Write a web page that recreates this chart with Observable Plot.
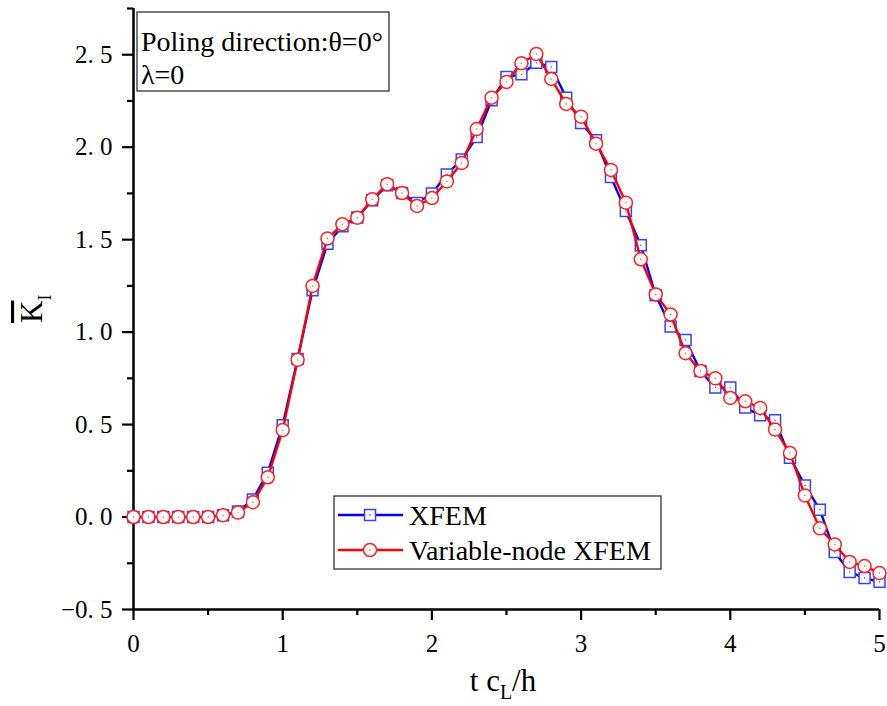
<!DOCTYPE html>
<html>
<head>
<meta charset="utf-8">
<script src="https://cdn.jsdelivr.net/npm/d3@7"></script>
<script src="https://cdn.jsdelivr.net/npm/@observablehq/plot@0.6"></script>
<style>
  html, body { margin: 0; padding: 0; background: #fff; }
  svg { display: block; }
</style>
</head>
<body>
<div id="chart"></div>
<script>
// ---- data ----
const t = [0,0.1,0.2,0.3,0.4,0.5,0.6,0.7,0.8,0.9,1.0,1.1,1.2,1.3,1.4,1.5,1.6,1.7,1.8,1.9,2.0,
           2.1,2.2,2.3,2.4,2.5,2.6,2.7,2.8,2.9,3.0,3.1,3.2,3.3,3.4,3.5,3.6,3.7,3.8,3.9,4.0,
           4.1,4.2,4.3,4.4,4.5,4.6,4.7,4.8,4.9,5.0];
const xfem = [0,0,0,0,0,0,0.01,0.03,0.095,0.24,0.497,0.855,1.226,1.478,1.572,1.62,1.713,1.794,1.752,1.698,1.749,
              1.853,1.933,2.055,2.254,2.38,2.394,2.457,2.434,2.268,2.131,2.037,1.839,1.655,1.47,1.199,1.031,0.957,0.79,0.70,0.70,
              0.592,0.55,0.523,0.321,0.171,0.04,-0.189,-0.297,-0.33,-0.35];
const vnxfem = [0,0,0,0,0,0,0.01,0.024,0.08,0.215,0.47,0.85,1.25,1.506,1.583,1.619,1.718,1.80,1.752,1.682,1.725,
                1.815,1.915,2.098,2.268,2.353,2.454,2.504,2.369,2.234,2.165,2.019,1.877,1.70,1.394,1.204,1.095,0.886,0.79,0.75,0.644,
                0.626,0.59,0.473,0.346,0.117,-0.061,-0.148,-0.243,-0.265,-0.303];
const seriesNames = ["XFEM", "Variable-node XFEM"];
const yMajor = [-0.5,0,0.5,1.0,1.5,2.0,2.5];
const yMinor = [-0.25,0.25,0.75,1.25,1.75,2.25,2.75];
const xMajor = [0,1,2,3,4,5];
const xMinor = [0.5,1.5,2.5,3.5,4.5];
const annotationLines = ["Poling direction:\u03b8=0\u00b0", "\u03bb=0"];

const dA = t.map((x, i) => ({x, y: xfem[i]}));
const dB = t.map((x, i) => ({x, y: vnxfem[i]}));

const fmtY = d => d.toFixed(1).replace(".", ". ").replace("-", "\u2212");
const FONT = "'Liberation Serif', 'Times New Roman', serif";

const chart = Plot.plot({
  width: 887,
  height: 706,
  marginLeft: 133,
  marginRight: 8,
  marginTop: 8,
  marginBottom: 97,
  style: {fontFamily: FONT, fontSize: "25px", background: "#fff", color: "#000"},
  x: {domain: [0, 5]},
  y: {domain: [-0.5, 2.75]},
  marks: [
    // tick marks (labels drawn separately)
    Plot.axisY(yMajor, {tickSize: 11, tickFormat: () => "", strokeWidth: 2.2, strokeOpacity: 1, label: null}),
    Plot.axisY(yMinor, {tickSize: 6, tickFormat: () => "", strokeWidth: 2.2, strokeOpacity: 1, label: null}),
    Plot.axisX(xMajor, {tickSize: 11, tickFormat: () => "", strokeWidth: 2.2, strokeOpacity: 1, label: null}),
    Plot.axisX(xMinor, {tickSize: 6, tickFormat: () => "", strokeWidth: 2.2, strokeOpacity: 1, label: null}),
    // tick labels
    Plot.text(yMajor, {y: d => d, text: fmtY, frameAnchor: "left", textAnchor: "end", dx: -21, fontSize: 25, fill: "#000"}),
    Plot.text(xMajor, {x: d => d, text: d => String(d), frameAnchor: "bottom", lineAnchor: "top", dy: 25, fontSize: 25, fill: "#000"}),
    // axis lines
    Plot.ruleX([0], {strokeWidth: 2.5, stroke: "#000"}),
    Plot.ruleY([-0.5], {strokeWidth: 2.5, stroke: "#000"}),
    // series
    Plot.line(dA, {x: "x", y: "y", stroke: "#0000ff", strokeWidth: 2.4}),
    Plot.dot(dA, {x: "x", y: "y", symbol: "square", r: 6.2, stroke: "#3344ff", strokeWidth: 1.5, fill: "#fff"}),
    Plot.dot(dA, {x: "x", y: "y", r: 0.7, fill: "#3344ff"}),
    Plot.line(dB, {x: "x", y: "y", stroke: "#ff0000", strokeWidth: 2.4}),
    Plot.dot(dB, {x: "x", y: "y", symbol: "circle", r: 6.5, stroke: "#ff2020", strokeWidth: 1.5, fill: "#fff"}),
    Plot.dot(dB, {x: "x", y: "y", r: 0.7, fill: "#ff4040"})
  ]
});
document.getElementById("chart").appendChild(chart);

const svg = d3.select(chart);

// annotation box
const ann = svg.append("g").attr("font-family", FONT).attr("font-size", 28).attr("text-anchor", "start");
ann.append("rect").attr("x", 137).attr("y", 12).attr("width", 252).attr("height", 79)
  .attr("fill", "#fff").attr("stroke", "#333").attr("stroke-width", 1.3);
annotationLines.forEach((s, i) => {
  ann.append("text").attr("x", 141).attr("y", 51 + i * 33).attr("text-anchor", "start").attr("fill", "#000").text(s);
});

// legend
const leg = svg.append("g").attr("font-family", FONT).attr("font-size", 28).attr("text-anchor", "start");
leg.append("rect").attr("x", 334).attr("y", 496).attr("width", 327).attr("height", 73)
  .attr("fill", "#fff").attr("stroke", "#333").attr("stroke-width", 1.3);
const legY = [515, 550];
const legColors = ["#0000ff", "#ff0000"];
seriesNames.forEach((name, i) => {
  const y = legY[i];
  leg.append("line").attr("x1", 338).attr("x2", 403).attr("y1", y).attr("y2", y)
    .attr("stroke", legColors[i]).attr("stroke-width", 2.4);
  if (i === 0) {
    leg.append("rect").attr("x", 370 - 5.5).attr("y", y - 5.5).attr("width", 11).attr("height", 11)
      .attr("fill", "#fff").attr("stroke", "#3344ff").attr("stroke-width", 1.5);
  } else {
    leg.append("circle").attr("cx", 370).attr("cy", y).attr("r", 6.5)
      .attr("fill", "#fff").attr("stroke", "#ff2020").attr("stroke-width", 1.5);
  }
  leg.append("circle").attr("cx", 370).attr("cy", y).attr("r", 0.7).attr("fill", legColors[i]);
  leg.append("text").attr("x", 409).attr("y", y + 10).attr("text-anchor", "start").attr("fill", "#000").text(name);
});

// x-axis label: t c_L/h
const xl = svg.append("text").attr("font-family", FONT).attr("font-size", 31)
  .attr("x", 503).attr("y", 691).attr("text-anchor", "middle").attr("fill", "#000");
xl.append("tspan").text("t c");
xl.append("tspan").attr("font-size", 20).attr("dy", 8).text("L");
xl.append("tspan").attr("dy", -8).text("/h");

// y-axis label: K̄_I
const yl = svg.append("text").attr("font-family", FONT).attr("font-size", 31).attr("text-anchor", "start")
  .attr("transform", "translate(42,323) rotate(-90)").attr("fill", "#000");
yl.append("tspan").style("text-decoration", "overline").text("K");
yl.append("tspan").attr("font-size", 18).attr("dy", 9).text("I");
</script>
</body>
</html>
